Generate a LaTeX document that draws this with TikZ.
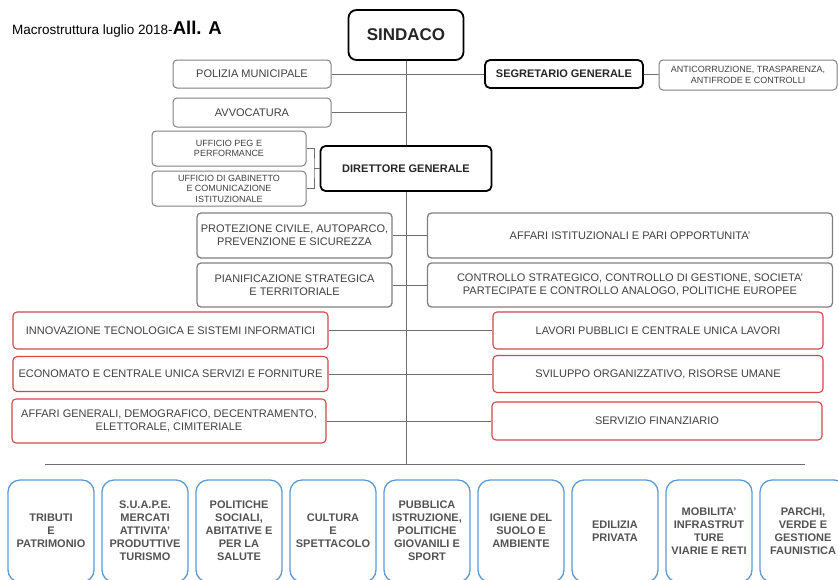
\documentclass[tikz,border=0pt]{standalone}
\usepackage{fontspec}
\setmainfont{Liberation Sans}
\definecolor{boxgrey}{RGB}{128,128,128}
\definecolor{txtgrey}{RGB}{64,64,64}
\definecolor{boxred}{RGB}{208,72,72}
\definecolor{boxblue}{RGB}{91,155,213}
\definecolor{linegrey}{RGB}{110,110,110}

\begin{document}
\begin{tikzpicture}[x=1pt,y=-1pt]
\tikzstyle{every node}+=[inner sep=0pt]
\tikzstyle{capo}=[draw=black, line width=1.8pt, rounded corners=5pt, text=black!85, font=\fontsize{11}{13}\selectfont\bfseries]
\tikzstyle{ufficio}=[draw=boxgrey, line width=1pt, rounded corners=4pt, align=center, text=txtgrey, font=\fontsize{11}{13}\selectfont]
\tikzstyle{piccolo}=[ufficio, font=\fontsize{9}{10.5}\selectfont]
\tikzstyle{settore}=[ufficio, draw=boxred, line width=1.1pt]
\tikzstyle{areabox}=[draw=boxblue, line width=1.3pt, rounded corners=12pt, align=center, text=txtgrey!90, font=\fontsize{11}{13}\selectfont\bfseries, minimum width=86pt, minimum height=102pt]
\tikzstyle{linea}=[draw=linegrey, line width=0.8pt]
\useasboundingbox (0,0) rectangle (838,579);
\clip (0,0) rectangle (838,579);
% intestazione
\node [anchor=base west] (titolo) at (12,34) {\fontsize{13.5}{15}\selectfont Macrostruttura luglio 2018-{\fontsize{18.5}{20}\selectfont\bfseries All. A}};
% vertice
\node [capo, minimum width=115pt, minimum height=50pt, rounded corners=8pt, font=\fontsize{17}{19}\selectfont\bfseries] (sindaco) at (406,35) {SINDACO};
\node [ufficio, minimum width=158pt, minimum height=28pt] (polizia) at (252,74) {POLIZIA MUNICIPALE};
\node [capo, minimum width=158pt, minimum height=28pt] (segretario) at (564,74) {SEGRETARIO GENERALE};
\node [piccolo, minimum width=178pt, minimum height=30pt] (anticorr) at (748,75) {ANTICORRUZIONE, TRASPARENZA,\\ANTIFRODE E CONTROLLI};
\node [ufficio, minimum width=158pt, minimum height=29pt] (avvocatura) at (252,112.5) {AVVOCATURA};
\node [piccolo, minimum width=154pt, minimum height=35pt] (peg) at (229,148.5) {UFFICIO PEG E\\PERFORMANCE};
\node [piccolo, minimum width=154pt, minimum height=35pt] (gabinetto) at (229,188.5) {UFFICIO DI GABINETTO\\E COMUNICAZIONE\\ISTITUZIONALE};
\node [capo, minimum width=171pt, minimum height=45pt] (direttore) at (406,168.5) {DIRETTORE GENERALE};
\coordinate (graffa) at (314,168.5);
% staff e uffici
\node [ufficio, line width=1.3pt, minimum width=195pt, minimum height=45pt] (protezione) at (294.5,235.5) {PROTEZIONE CIVILE, AUTOPARCO,\\PREVENZIONE E SICUREZZA};
\node [ufficio, line width=1.3pt, minimum width=405pt, minimum height=45pt] (affari) at (630,235.5) {AFFARI ISTITUZIONALI E PARI OPPORTUNITA'};
\node [ufficio, line width=1.3pt, minimum width=195pt, minimum height=44pt] (pianificazione) at (294.5,285) {PIANIFICAZIONE STRATEGICA\\E TERRITORIALE};
\node [ufficio, line width=1.3pt, minimum width=405pt, minimum height=44pt] (controllo) at (630,285) {CONTROLLO STRATEGICO, CONTROLLO DI GESTIONE, SOCIETA'\\PARTECIPATE E CONTROLLO ANALOGO, POLITICHE EUROPEE};
% settori
\node [settore, minimum width=315pt, minimum height=37pt] (innovazione) at (170.5,330.5) {INNOVAZIONE TECNOLOGICA E SISTEMI INFORMATICI};
\node [settore, minimum width=315pt, minimum height=35pt] (economato) at (170.5,374) {ECONOMATO E CENTRALE UNICA SERVIZI E FORNITURE};
\node [settore, minimum width=314pt, minimum height=44pt] (generali) at (169,421) {AFFARI GENERALI, DEMOGRAFICO, DECENTRAMENTO,\\ELETTORALE, CIMITERIALE};
\node [settore, minimum width=330pt, minimum height=37pt] (lavori) at (658,330.5) {LAVORI PUBBLICI E CENTRALE UNICA LAVORI};
\node [settore, minimum width=330pt, minimum height=37pt] (sviluppo) at (658,374) {SVILUPPO ORGANIZZATIVO, RISORSE UMANE};
\node [settore, minimum width=330pt, minimum height=38pt] (finanziario) at (657,421) {SERVIZIO FINANZIARIO};
% aree
\coordinate (basesx) at (45,464);
\coordinate (basedx) at (805,464);
\coordinate (basecentro) at (406,464);
\node [areabox] (tributi) at (51,531) {TRIBUTI\\E\\PATRIMONIO};
\node [areabox] (suape) at (145,531) {S.U.A.P.E.\\MERCATI\\ATTIVITA'\\PRODUTTIVE\\TURISMO};
\node [areabox] (sociali) at (239,531) {POLITICHE\\SOCIALI,\\ABITATIVE E\\PER LA\\SALUTE};
\node [areabox] (cultura) at (333,531) {CULTURA\\E\\SPETTACOLO};
\node [areabox] (istruzione) at (427,531) {PUBBLICA\\ISTRUZIONE,\\POLITICHE\\GIOVANILI E\\SPORT};
\node [areabox] (igiene) at (521,531) {IGIENE DEL\\SUOLO E\\AMBIENTE};
\node [areabox] (edilizia) at (615,531) {EDILIZIA\\PRIVATA};
\node [areabox] (mobilita) at (709,531) {MOBILITA'\\INFRASTRUT\\TURE\\VIARIE E RETI};
\node [areabox] (parchi) at (803,531) {PARCHI,\\VERDE E\\GESTIONE\\FAUNISTICA};
% collegamenti
\draw [linea] (sindaco) -- (direttore);
\draw [linea] (direttore) -- (basecentro);
\draw [linea] (basesx) -- (basedx);
\draw [linea] (polizia) -- (segretario);
\draw [linea] (segretario) -- (anticorr);
\draw [linea] (avvocatura.east) -- (avvocatura.east -| sindaco.south);
\draw [linea] (peg.east) -| (graffa) |- (gabinetto.east);
\draw [linea] (graffa) -- (direttore.west);
\draw [linea] (protezione) -- (affari);
\draw [linea] (pianificazione) -- (controllo);
\draw [linea] (innovazione) -- (lavori);
\draw [linea] (economato) -- (sviluppo);
\draw [linea] (generali) -- (finanziario);
\end{tikzpicture}
\end{document}
